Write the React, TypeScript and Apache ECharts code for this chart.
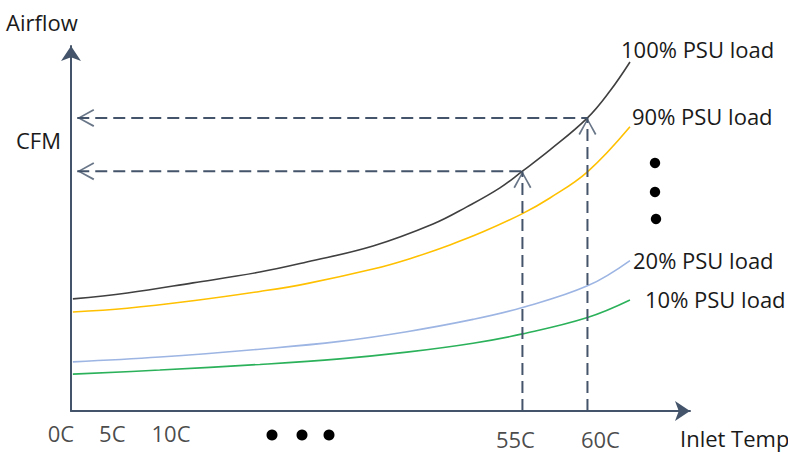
import React, { useEffect, useRef } from "react";
import * as echarts from "echarts";

// ---- data (schematic units: x = inlet-temperature position, y = airflow) ----
const tempLabels = ["0C", "5C", "10C", "55C", "60C"];
const tempPos = [0, 6.6, 16, 72.2, 82.6];

const seriesNames = ["100% PSU load", "90% PSU load", "20% PSU load", "10% PSU load"];

const load100X = [0.3, 9.0, 19.5, 30.2, 37.7, 48.3, 57.9, 63.3, 68.6, 72.2, 76.6, 82.6, 86.2, 89.4];
const load100Y = [30.1, 31.7, 34.4, 37.3, 40.0, 44.3, 50.2, 54.8, 59.9, 64.4, 70.1, 78.7, 85.9, 93.7];

const load90X = [0.3, 9.0, 19.5, 30.2, 37.7, 48.3, 54.2, 60.6, 65.9, 72.2, 76.6, 82.6, 89.4];
const load90Y = [26.6, 27.6, 29.6, 32.1, 34.2, 38.1, 40.9, 44.6, 48.1, 53.0, 57.2, 64.2, 76.3];

const load20X = [0.3, 14.2, 30.2, 43.0, 53.7, 64.3, 72.2, 82.6, 89.4];
const load20Y = [13.2, 14.5, 16.6, 18.7, 21.3, 24.6, 27.8, 33.6, 40.4];

const load10X = [0.3, 14.2, 30.2, 43.0, 53.7, 64.3, 72.2, 82.6, 89.4];
const load10Y = [9.9, 11.0, 12.5, 14.0, 15.8, 18.2, 20.7, 25.1, 29.8];

// guides: the 55C and 60C points on the 100% curve, projected onto both axes
const guideTemps = ["55C", "60C"];

// ---- styles ----
const AXIS = "#44546A";
const FONT = "Open Sans";
const FS = 22;
const TEXT = "#1a1a1a";
const curveColors = ["#404040", "#FFC000", "#9DB5E3", "#2BB15A"];
const labelSpots: [number, number][] = [
  [621, 49],
  [632, 116],
  [633, 260],
  [645, 299],
];
const tickLabelOffsets: [number, number][] = [
  [-10, 22],
  [0, 22],
  [0, 22],
  [-7, 28],
  [13, 28],
];
const UP_CHEVRON = "path://M10,0 L20,18 L18.3,19 L10,3.6 L1.7,19 L0,18 Z";
const LEFT_CHEVRON = "path://M0,10 L18,0 L19,1.7 L3.6,10 L19,18.3 L18,20 Z";
const LEFT_TIP_X = 1;

const zip = (xs: number[], ys: number[]) => xs.map((x, i) => [x, ys[i]]);

export default function App() {
  const ref = useRef<HTMLDivElement>(null);

  useEffect(() => {
    if (!ref.current) return;
    const chart = echarts.init(ref.current, null, { renderer: "svg" });

    const curves = [
      zip(load100X, load100Y),
      zip(load90X, load90Y),
      zip(load20X, load20Y),
      zip(load10X, load10Y),
    ];

    const guidePoints = guideTemps.map((t) => {
      const x = tempPos[tempLabels.indexOf(t)];
      const y = load100Y[load100X.indexOf(x)];
      return [x, y];
    });

    const axisCommon = {
      type: "value" as const,
      min: 0,
      axisLine: {
        show: true,
        onZero: true,
        symbol: ["none", "arrow"],
        symbolSize: [15, 15],
        lineStyle: { color: AXIS, width: 2 },
      },
      axisTick: { show: false },
      axisLabel: { show: false },
      splitLine: { show: false },
    };

    const dashStyle = { color: AXIS, width: 2, type: [12, 6] as number[] };

    const series: any[] = [];
    curves.forEach((data, i) => {
      series.push({
        type: "line",
        name: seriesNames[i],
        data,
        smooth: 0.4,
        showSymbol: false,
        symbol: "none",
        silent: true,
        lineStyle: { color: curveColors[i], width: 1.6 },
        z: 2,
      });
    });

    guidePoints.forEach((p) => {
      series.push({
        type: "line",
        data: [
          [p[0], 0],
          [p[0], p[1]],
        ],
        symbol: "none",
        silent: true,
        lineStyle: dashStyle,
        z: 3,
      });
      series.push({
        type: "line",
        data: [
          [LEFT_TIP_X, p[1]],
          [p[0], p[1]],
        ],
        symbol: "none",
        silent: true,
        lineStyle: dashStyle,
        z: 3,
      });
    });

    series.push({
      type: "scatter",
      data: guidePoints,
      symbol: UP_CHEVRON,
      symbolSize: [18, 17],
      symbolOffset: [0, 8.5],
      itemStyle: { color: AXIS },
      silent: true,
      clip: false,
      z: 4,
    });
    series.push({
      type: "scatter",
      data: guidePoints.map((p) => [LEFT_TIP_X, p[1]]),
      symbol: LEFT_CHEVRON,
      symbolSize: [17, 18],
      symbolOffset: [8.5, 0],
      itemStyle: { color: AXIS },
      silent: true,
      clip: false,
      z: 4,
    });

    series.push({
      type: "scatter",
      data: tempLabels.map((t, i) => ({
        value: [tempPos[i], 0],
        label: { offset: tickLabelOffsets[i] },
      })),
      symbolSize: 1,
      itemStyle: { color: "rgba(0,0,0,0)" },
      silent: true,
      clip: false,
      label: {
        show: true,
        position: "inside",
        formatter: (p: any) => tempLabels[p.dataIndex],
        color: TEXT,
        fontFamily: FONT,
        fontSize: FS,
        lineHeight: 20,
      },
      z: 5,
    });

    const text = (t: string, x: number, y: number) => ({
      type: "text",
      x,
      y,
      silent: true,
      style: {
        text: t,
        fill: TEXT,
        fontFamily: FONT,
        fontSize: FS,
        align: "left",
        verticalAlign: "middle",
      },
    });

    const dot = (cx: number, cy: number, r: number) => ({
      type: "circle",
      silent: true,
      shape: { cx, cy, r },
      style: { fill: "#000" },
    });

    const graphic: any[] = [
      text("Airflow", 6, 22),
      text("CFM", 16, 140),
      text("Inlet Temp", 680, 438),
      ...seriesNames.map((n, i) => text(n, labelSpots[i][0], labelSpots[i][1])),
      dot(655, 163, 5.2),
      dot(655, 192, 5.2),
      dot(656, 219, 5.2),
      dot(272, 435, 5.5),
      dot(302, 435, 5.5),
      dot(329, 435, 5.5),
    ];

    chart.setOption({
      animation: false,
      backgroundColor: "#ffffff",
      grid: { left: 71, top: 46, width: 619, height: 365, containLabel: false },
      xAxis: { ...axisCommon, max: 99 },
      yAxis: { ...axisCommon, max: 98 },
      series,
      graphic,
    });

    return () => chart.dispose();
  }, []);

  return (
    <div
      ref={ref}
      style={{ position: "absolute", left: 0, top: 0, width: 788, height: 453, background: "#fff" }}
    />
  );
}
